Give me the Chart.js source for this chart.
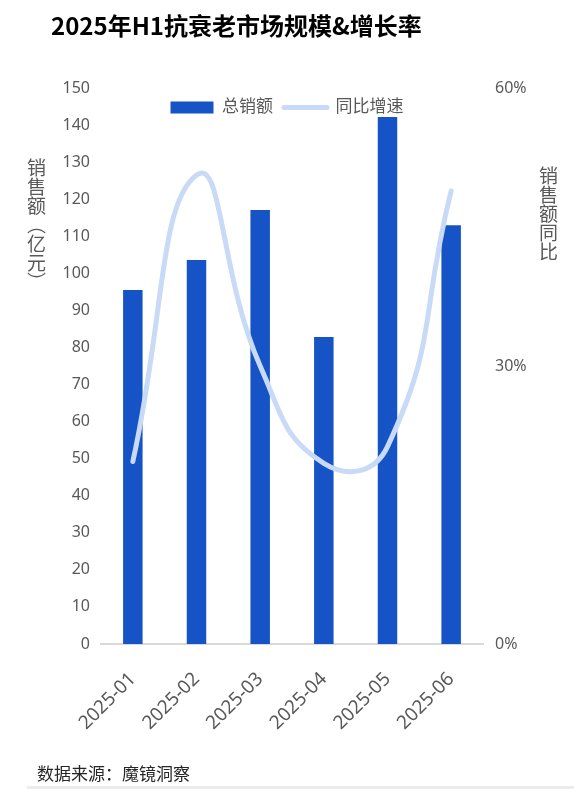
<!DOCTYPE html>
<html><head><meta charset="utf-8">
<script src="https://cdn.jsdelivr.net/npm/chart.js@4.4.1/dist/chart.umd.min.js"></script>
<style>
html,body{margin:0;padding:0;background:#fff;}
#wrap{position:relative;width:574px;height:789px;overflow:hidden;background:#fff;}
#c{position:absolute;left:0;top:0;}
.title{position:absolute;left:51px;top:9px;font-weight:bold;font-size:24px;font-family:"Noto Sans CJK SC",sans-serif;color:#000;white-space:nowrap;line-height:32px;}
.yt{position:absolute;writing-mode:vertical-rl;font-size:19px;font-family:"Noto Sans CJK SC",sans-serif;color:#595959;line-height:20px;white-space:nowrap;}
.src{position:absolute;left:37px;top:762px;font-size:17px;font-family:"Noto Sans CJK SC",sans-serif;color:#262626;line-height:22px;white-space:nowrap;}
.foot{position:absolute;left:27px;right:0;top:786px;height:3px;background:#ececec;}
</style></head>
<body>
<div id="wrap">
  <canvas id="c" width="574" height="789"></canvas>
  <div class="title">2025年H1抗衰老市场规模&amp;增长率</div>
  <div class="yt" style="left:26px;top:158px;">销售额（亿元）</div>
  <div class="yt" style="left:538px;top:166px;">销售额同比</div>
  <div class="src">数据来源：魔镜洞察</div>
  <div class="foot"></div>
</div>
<script>
const categories = ['2025-01', '2025-02', '2025-03', '2025-04', '2025-05', '2025-06'];
const salesValues = [95.5, 103.6, 117.1, 82.8, 142.2, 113.0];
const yoyValues = [19.7, 50.6, 30.0, 19.5, 21.3, 48.9];
const salesLabel = '总销额';
const yoyLabel = '同比增速';

const barColor = '#1553C7';
const lineColor = '#C8DAF6';
const tickColor = '#595959';
const fontFam = '"Noto Sans", "Noto Sans CJK SC", sans-serif';

const legendOverlay = {
  id: 'legendOverlay',
  beforeInit(chart) {
    const lg = chart.legend;
    if (lg) {
      const orig = lg.fit;
      lg.fit = function () { orig.call(this); this._realH = this.height; this.height = 0; };
    }
  },
  afterLayout(chart) {
    const lg = chart.legend;
    if (lg && lg._realH) {
      lg.height = lg._realH;
      lg.bottom = lg.top + lg._realH;
    }
  }
};

new Chart(document.getElementById('c'), {
  type: 'bar',
  data: {
    labels: categories,
    datasets: [
      {
        type: 'line',
        label: yoyLabel,
        data: yoyValues,
        yAxisID: 'y1',
        borderColor: lineColor,
        backgroundColor: lineColor,
        borderWidth: 5,
        borderCapStyle: 'round',
        tension: 0.5,
        pointRadius: 0,
        pointHoverRadius: 0,
        fill: false
      },
      {
        type: 'bar',
        label: salesLabel,
        data: salesValues,
        yAxisID: 'y',
        backgroundColor: barColor,
        borderWidth: 0,
        barPercentage: 1,
        categoryPercentage: 0.306
      }
    ]
  },
  options: {
    responsive: false,
    animation: false,
    devicePixelRatio: 1,
    layout: { padding: { top: 88, left: 0, right: 0, bottom: 0 } },
    plugins: {
      tooltip: { enabled: false },
      legend: {
        position: 'top',
        labels: {
          color: tickColor,
          font: { family: fontFam, size: 17 },
          usePointStyle: true,
          boxHeight: 12,
          pointStyleWidth: 43,
          padding: 11,
          generateLabels(chart) {
            const ds = chart.data.datasets;
            return [
              { text: ds[1].label, fillStyle: barColor, strokeStyle: barColor, lineWidth: 0, pointStyle: 'rect', datasetIndex: 1, hidden: false, fontColor: tickColor },
              { text: ds[0].label, fillStyle: lineColor, strokeStyle: lineColor, lineWidth: 5, lineCap: 'round', pointStyle: 'line', datasetIndex: 0, hidden: false, fontColor: tickColor }
            ];
          }
        }
      }
    },
    scales: {
      x: {
        type: 'category',
        afterFit(s) { s.height = 145; },
        grid: { display: false, drawTicks: false },
        border: { display: true, color: '#D9D9D9', width: 2 },
        ticks: {
          color: tickColor,
          font: { family: fontFam, size: 19 },
          minRotation: 45,
          maxRotation: 45,
          padding: 24
        }
      },
      y: {
        position: 'left',
        min: 0,
        max: 150,
        afterFit(s) { s.width = 101; },
        grid: { display: false, drawTicks: false },
        border: { display: false },
        ticks: {
          stepSize: 10,
          color: tickColor,
          font: { family: fontFam, size: 16 },
          padding: 11
        }
      },
      y1: {
        position: 'right',
        min: 0,
        max: 60,
        afterFit(s) { s.width = 91; },
        grid: { display: false, drawTicks: false },
        border: { display: false },
        ticks: {
          stepSize: 30,
          color: tickColor,
          font: { family: fontFam, size: 16 },
          padding: 12,
          callback: (v) => v + '%'
        }
      }
    }
  },
  plugins: [legendOverlay]
});
</script>
</body></html>
